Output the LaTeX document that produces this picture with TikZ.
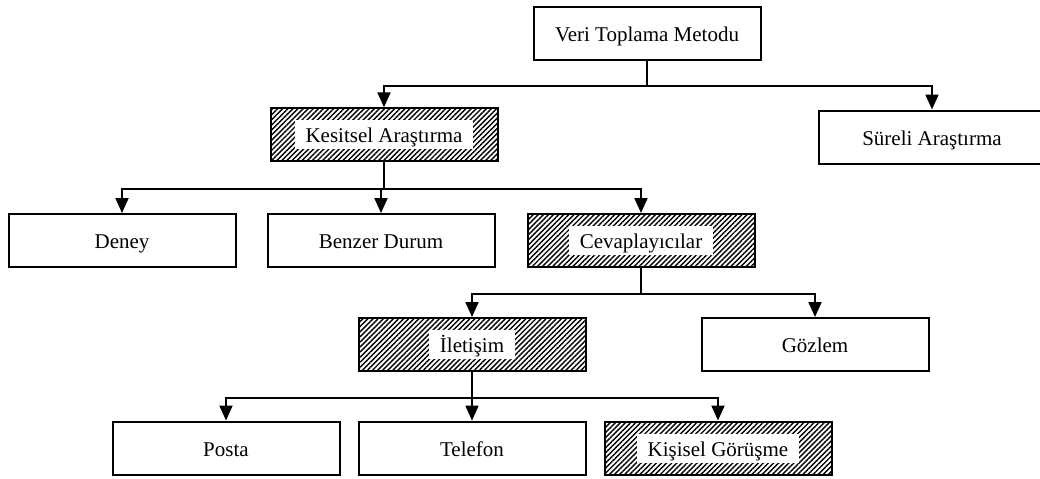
\documentclass[tikz,border=0pt]{standalone}
\usepackage{fontspec}
\setmainfont{Liberation Serif}
\usetikzlibrary{arrows.meta,patterns.meta}
\begin{document}
\begin{tikzpicture}[x=0.5pt,y=-0.5pt,
        yazi/.style={font=\fontsize{10.5}{12}\selectfont,text height=8pt,text depth=0pt},
        kutu/.style={yazi,draw,line width=1pt,minimum width=113.5pt,minimum height=26.5pt},
        tarali/.style={kutu,pattern={Lines[angle=45,distance=1.8pt,line width=0.7pt]}},
        etiket/.style={yazi,fill=white,inner xsep=5.5pt,inner ysep=0pt,minimum height=14.5pt},
        ok/.style={line width=1pt,-{Triangle[width=6.5pt,length=7.5pt]}}]
                \useasboundingbox (0,0) rectangle (1040,478);
                \node[kutu] (V) at (647,33.5) {Veri Toplama Metodu};
                \node[tarali] (K) at (384,134.5) {};
                \node[etiket] (KL) at (K) {Kesitsel Araştırma};
                \node[kutu] (S) at (932,137) {Süreli Araştırma};
                \node[kutu] (D) at (122,240.5) {Deney};
                \node[kutu] (B) at (381,240.5) {Benzer Durum};
                \node[tarali] (C) at (641,240.5) {};
                \node[etiket] (CL) at (C) {Cevaplayıcılar};
                \node[tarali] (I) at (472,344.5) {};
                \node[etiket] (IL) at (I) {İletişim};
                \node[kutu] (G) at (815,344.5) {Gözlem};
                \node[kutu] (P) at (226,448) {Posta};
                \node[kutu] (T) at (472,448) {Telefon};
                \node[tarali] (KG) at (718,448) {};
                \node[etiket] (KGL) at (KG) {Kişisel Görüşme};
                \draw[ok] (V.south) -- ++(0,25) -| (K.north);
                \draw[ok] (V.south) -- ++(0,25) -| (S.north);
                \draw[ok] (K.south) -- ++(0,27) -| (D.north);
                \draw[ok] (K.south) -- ++(0,27) -| (B.north);
                \draw[ok] (K.south) -- ++(0,27) -| (C.north);
                \draw[ok] (C.south) -- ++(0,26) -| (I.north);
                \draw[ok] (C.south) -- ++(0,26) -| (G.north);
                \draw[ok] (I.south) -- ++(0,26) -| (P.north);
                \draw[ok] (I.south) -- ++(0,26) -| (T.north);
                \draw[ok] (I.south) -- ++(0,26) -| (KG.north);
            \end{tikzpicture}
\end{document}
